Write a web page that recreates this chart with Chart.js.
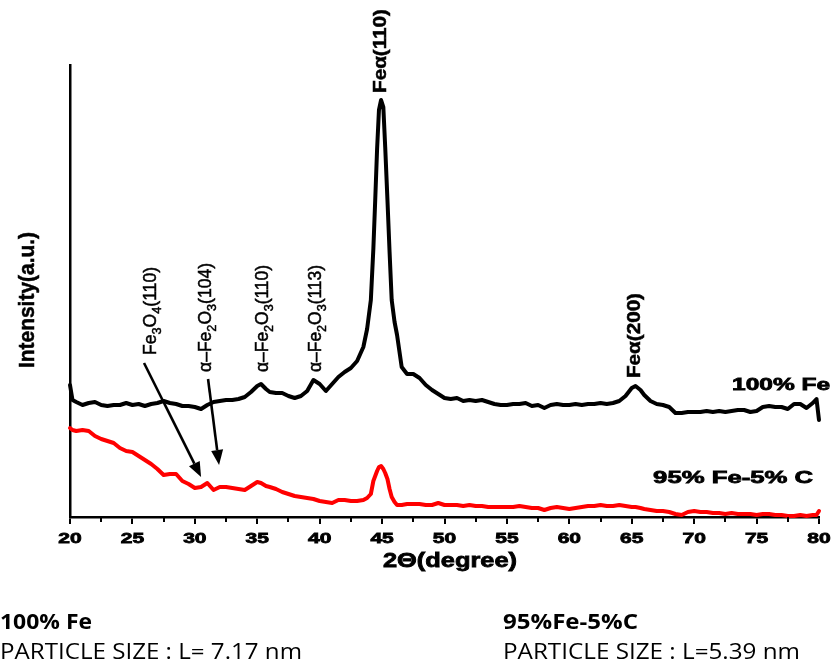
<!DOCTYPE html>
<html>
<head>
<meta charset="utf-8">
<script src="https://cdn.jsdelivr.net/npm/chart.js@4.4.1/dist/chart.umd.min.js"></script>
<style>
  html, body { margin: 0; padding: 0; background: #ffffff; }
  #wrap { width: 836px; height: 667px; position: relative; }
</style>
</head>
<body>
<div id="wrap"><canvas id="c" width="836" height="667"></canvas></div>
<script>
// ---------- data ----------
const twoTheta = [
  20.0,20.2,20.5,21.0,21.5,22.0,22.5,23.0,23.5,24.0,24.5,25.0,25.5,26.0,26.5,27.0,27.5,28.0,28.5,29.0,29.5,
  30.0,30.5,31.0,31.5,32.0,32.5,33.0,33.5,34.0,34.5,35.0,35.3,35.7,36.0,36.5,37.0,37.5,38.0,38.5,39.0,39.5,
  40.0,40.5,41.0,41.5,42.0,42.5,43.0,43.5,43.8,44.1,44.3,44.45,44.6,44.75,44.92,45.1,45.25,45.43,45.6,45.77,
  46.0,46.2,46.57,47.0,47.5,48.0,48.5,
  49.0,49.5,50.0,50.5,51.0,51.5,52.0,52.5,53.0,53.5,54.0,54.5,55.0,55.5,56.0,56.5,57.0,57.5,58.0,58.5,59.0,
  59.5,60.0,60.5,61.0,61.5,62.0,62.5,63.0,63.5,64.0,64.5,65.0,65.3,65.7,66.0,66.5,67.0,67.5,68.0,68.5,69.0,
  69.5,70.0,70.5,71.0,71.5,72.0,72.5,73.0,73.5,74.0,74.5,75.0,75.5,76.0,76.5,77.0,77.5,78.0,78.5,79.0,79.5,
  79.8,80.0
];
const intensityFe100 = [
  132,117,115,112,114,115,112,111,112,112,114,112,113,111,113,114,116,114,113,111,111,
  110,108,112,115,116,117,117,118,120,125,131,133,128,125,124,124,121,119,121,126,137,
  133,126,133,140,145,149,156,170,188,217,268,317,368,407,417,410,370,317,265,217,
  195,182,150,143,143,139,132,
  127,123,119,118,119,116,117,116,117,115,113,112,112,113,113,114,111,112,109,112,113,
  112,112,113,112,113,113,114,113,114,116,121,129,131,127,122,116,113,112,110,104,104,
  105,105,105,106,105,106,105,106,107,107,105,106,110,111,110,110,108,113,113,109,114,
  118,97
];
const intensityFe95C5 = [
  89,87,86,87,86,81,78,76,74,69,66,65,61,57,53,48,42,43,43,36,33,
  29,30,34,27,30,30,29,28,27,31,35,34,31,30,28,25,23,21,20,19,18,
  16,15,14,17,17,16,16,17,19,23,36,41,46,50,51,48,44,38,28,20,
  15,12,12,13,13,13,12,
  12,14,12,12,12,11,12,11,11,10,10,10,10,10,11,10,9,9,7,9,10,
  9,8,9,10,11,11,12,11,11,12,11,10,10,9,8,7,6,6,5,3,2,
  5,6,5,5,4,4,3,4,3,3,3,2,3,3,2,2,1,1,2,1,2,
  2,6
];
const xTicks = [20,25,30,35,40,45,50,55,60,65,70,75,80];
const xMinorTicks = [22.5,27.5,32.5,37.5,42.5,47.5,52.5,57.5,62.5,67.5,72.5,77.5];
const seriesNames = ['100% Fe', '95% Fe-5% C'];
const xTitle = '2\u0398(degree)';
const yTitle = 'Intensity(a.u.)';
const footer = [
  ['100% Fe', 'PARTICLE SIZE : L= 7.17 nm'],
  ['95%Fe-5%C', 'PARTICLE SIZE : L=5.39 nm']
];

// ---------- styling / annotation layout ----------
const FONT = '"Liberation Sans", Arial, sans-serif';
const peakLabels = [
  { segs: [['Fe'],['3',1],['O'],['4',1],['(110)']], x: 26.9, y: 162, len: 88, bold: false },
  { segs: [['\u03B1\u2013Fe'],['2',1],['O'],['3',1],['(104)']], x: 31.3, y: 145, len: 109, bold: false },
  { segs: [['\u03B1\u2013Fe'],['2',1],['O'],['3',1],['(110)']], x: 35.9, y: 145, len: 107, bold: false },
  { segs: [['\u03B1\u2013Fe'],['2',1],['O'],['3',1],['(113)']], x: 40.1, y: 145, len: 107, bold: false },
  { segs: [['Fe\u03B1(110)']], x: 45.32, y: 424, len: 84, bold: true },
  { segs: [['Fe\u03B1(200)']], x: 65.67, y: 139, len: 85, bold: true }
];
const arrows = [
  { x1: 25.93, y1: 154, x2: 30.5, y2: 40 },
  { x1: 31.06, y1: 138, x2: 31.94, y2: 52 }
];
const seriesLabelPos = [
  { x: 73.04, y: 127, w: 98 },
  { x: 66.71, y: 34, w: 160 }
];

function fitText(ctx, text, x, y, width, font, align, stroke) {
  ctx.save();
  ctx.font = font;
  const m = ctx.measureText(text).width;
  const s = width ? width / m : 1;
  ctx.translate(x, y);
  ctx.scale(s, 1);
  ctx.textAlign = align || 'left';
  ctx.textBaseline = 'alphabetic';
  ctx.fillText(text, 0, 0);
  if (stroke) { ctx.lineWidth = stroke; ctx.strokeStyle = ctx.fillStyle; ctx.strokeText(text, 0, 0); }
  ctx.restore();
}

function drawSegsRotated(ctx, segs, px, py, len, bold) {
  const base = (bold ? 'bold 19px ' : '18px ') + FONT;
  const sub = (bold ? 'bold 13px ' : '13px ') + FONT;
  ctx.save();
  let total = 0;
  const widths = segs.map(s => { ctx.font = s[1] ? sub : base; const w = ctx.measureText(s[0]).width; total += w; return w; });
  ctx.translate(px, py);
  ctx.rotate(-Math.PI / 2);
  ctx.scale(len / total, 1);
  ctx.textAlign = 'left';
  ctx.textBaseline = 'alphabetic';
  ctx.strokeStyle = '#000';
  ctx.lineWidth = 0.5;
  let cx = 0;
  segs.forEach((s, i) => {
    ctx.font = s[1] ? sub : base;
    const yy = s[1] ? 5 : 0;
    ctx.fillText(s[0], cx, yy);
    ctx.strokeText(s[0], cx, yy);
    cx += widths[i];
  });
  ctx.restore();
}

function drawArrow(ctx, x1, y1, x2, y2) {
  const ang = Math.atan2(y2 - y1, x2 - x1);
  const head = 15, hw = 6;
  const bx = x2 - head * Math.cos(ang), by = y2 - head * Math.sin(ang);
  ctx.save();
  ctx.strokeStyle = '#000'; ctx.fillStyle = '#000'; ctx.lineWidth = 2.6;
  ctx.beginPath(); ctx.moveTo(x1, y1); ctx.lineTo(bx, by); ctx.stroke();
  ctx.beginPath();
  ctx.moveTo(x2, y2);
  ctx.lineTo(bx + hw * Math.sin(ang), by - hw * Math.cos(ang));
  ctx.lineTo(bx - hw * Math.sin(ang), by + hw * Math.cos(ang));
  ctx.closePath(); ctx.fill();
  ctx.restore();
}

const decorations = {
  id: 'decorations',
  afterDraw(chart) {
    const ctx = chart.ctx;
    const xs = chart.scales.x, ys = chart.scales.y;
    const bottom = chart.chartArea.bottom;
    ctx.save();
    ctx.fillStyle = '#000';
    // minor ticks
    ctx.strokeStyle = '#000'; ctx.lineWidth = 2;
    xMinorTicks.forEach(v => {
      const px = Math.round(xs.getPixelForValue(v));
      ctx.beginPath(); ctx.moveTo(px, bottom); ctx.lineTo(px, bottom + 5); ctx.stroke();
    });
    // tick labels
    xTicks.forEach(v => {
      const px = xs.getPixelForValue(v);
      ctx.save();
      ctx.font = 'bold 15px ' + FONT;
      ctx.translate(px, 543); ctx.scale(1.4, 1);
      ctx.textAlign = 'center'; ctx.textBaseline = 'alphabetic';
      ctx.fillText(String(v), 0, 0);
      ctx.lineWidth = 0.8; ctx.strokeStyle = '#000'; ctx.strokeText(String(v), 0, 0);
      ctx.restore();
    });
    // axis titles
    fitText(ctx, xTitle, 450, 567, 134, 'bold 20px ' + FONT, 'center', 0.8);
    ctx.save();
    ctx.font = 'bold 22px ' + FONT;
    const yw = ctx.measureText(yTitle).width;
    ctx.translate(34, 300); ctx.rotate(-Math.PI / 2); ctx.scale(136 / yw, 1);
    ctx.textAlign = 'center'; ctx.textBaseline = 'alphabetic';
    ctx.fillText(yTitle, 0, 0);
    ctx.lineWidth = 0.5; ctx.strokeStyle = '#000'; ctx.strokeText(yTitle, 0, 0);
    ctx.restore();
    // peak labels
    peakLabels.forEach(l => drawSegsRotated(ctx, l.segs, xs.getPixelForValue(l.x), ys.getPixelForValue(l.y), l.len, l.bold));
    // arrows
    arrows.forEach(a => drawArrow(ctx, xs.getPixelForValue(a.x1), ys.getPixelForValue(a.y1), xs.getPixelForValue(a.x2), ys.getPixelForValue(a.y2)));
    // series labels
    seriesNames.forEach((n, i) => {
      const p = seriesLabelPos[i];
      fitText(ctx, n, xs.getPixelForValue(p.x), ys.getPixelForValue(p.y), p.w, 'bold 17px ' + FONT, 'left', 0.8);
    });
    // footer text
    const ff = '"Open Sans", "Noto Sans", sans-serif';
    fitText(ctx, footer[0][0], 0, 629, 92, 'bold 22px ' + ff, 'left');
    fitText(ctx, footer[0][1], 0, 659, 302, '22px ' + ff, 'left');
    fitText(ctx, footer[1][0], 503, 629, 135, 'bold 22px ' + ff, 'left');
    fitText(ctx, footer[1][1], 503, 659, 297, '22px ' + ff, 'left');
    ctx.restore();
  }
};

new Chart(document.getElementById('c'), {
  type: 'line',
  data: {
    datasets: [
      { label: seriesNames[0], data: twoTheta.map((x, i) => ({ x, y: intensityFe100[i] })),
        borderColor: '#000000', borderWidth: 4, pointRadius: 0, tension: 0, fill: false, clip: false,
        borderJoinStyle: 'round', borderCapStyle: 'round' },
      { label: seriesNames[1], data: twoTheta.map((x, i) => ({ x, y: intensityFe95C5[i] })),
        borderColor: '#ff0000', borderWidth: 4, pointRadius: 0, tension: 0, fill: false, clip: false,
        borderJoinStyle: 'round', borderCapStyle: 'round' }
    ]
  },
  options: {
    responsive: false,
    animation: false,
    devicePixelRatio: 1,
    layout: { padding: { left: 70, top: 65, right: 17, bottom: 142 } },
    plugins: { legend: { display: false }, tooltip: { enabled: false } },
    scales: {
      x: {
        type: 'linear', min: 20, max: 80,
        afterBuildTicks: s => { s.ticks = xTicks.map(v => ({ value: v })); },
        afterFit: s => { s.height = 8; },
        ticks: { display: false },
        grid: { display: true, drawOnChartArea: false, drawTicks: true, tickLength: 7, color: '#000', lineWidth: 2 },
        border: { display: true, color: '#000', width: 2.5 }
      },
      y: {
        type: 'linear', min: 0, max: 452,
        afterFit: s => { s.width = 0; },
        ticks: { display: false },
        grid: { display: false },
        border: { display: true, color: '#000', width: 2.5 }
      }
    }
  },
  plugins: [decorations]
});
</script>
</body>
</html>
